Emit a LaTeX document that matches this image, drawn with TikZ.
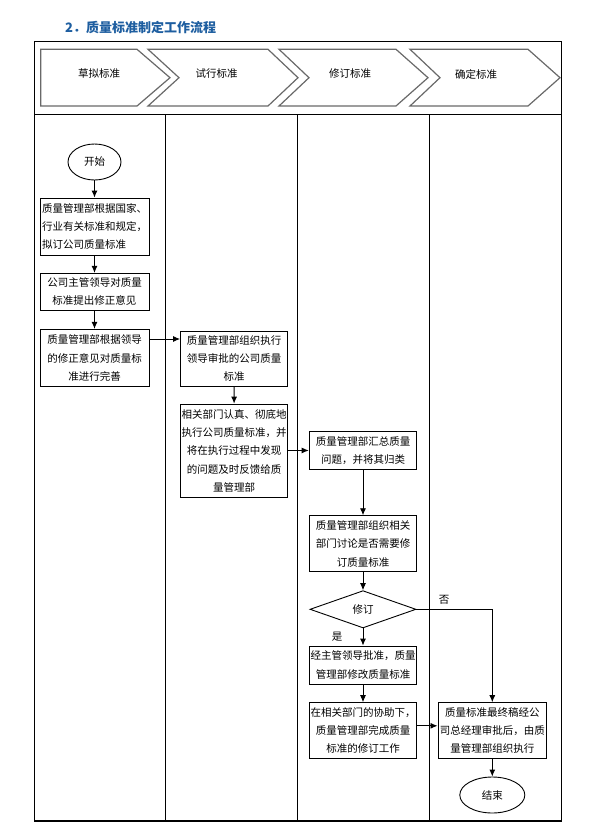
\documentclass[tikz,border=0pt]{standalone}
\usepackage{fontspec}
\setmainfont{Noto Sans CJK SC}
\usetikzlibrary{shapes.geometric, arrows.meta, positioning}
\definecolor{titleblue}{RGB}{30,94,160}
\definecolor{phasegray}{RGB}{105,105,105}
\tikzset{
	proc/.style={draw, rectangle, inner sep=0pt, line width=0.9pt, minimum width=108pt, align=center, font=\fontsize{10.5}{18.3}\selectfont},
	term/.style={draw, ellipse, inner sep=0pt, line width=0.9pt, font=\fontsize{10.5}{12}\selectfont},
	decide/.style={draw, diamond, inner sep=0pt, line width=0.9pt, minimum width=106pt, minimum height=37.3pt, font=\fontsize{10.5}{12}\selectfont},
	% chevrons of the header row
	phase/.style={draw=phasegray, line width=1.2pt, line join=miter},
	note/.style={inner sep=0pt, font=\fontsize{10.5}{12}\selectfont},
	lane/.style={line width=1pt},
}

\begin{document}
\begin{tikzpicture}[x=1pt, y=-1pt]
	\useasboundingbox (0,0) rectangle (601,828);
	
	\node (title) [anchor=west, inner sep=0pt, text=titleblue, font=\fontsize{13}{15}\selectfont\bfseries] at (65,27) {2．质量标准制定工作流程};
	
	% frame and lanes
	\draw [line width=1.4pt] (34.3,41.7) rectangle (561.5,821);
	\draw [lane] (34.3,114.5) -- (561.5,114.5);
	\foreach \x in {165.2,297.3,429.3}
		\draw [lane] (\x,114.5) -- (\x,821);
	
	\draw [phase] (40.7,49.3) -- (137,49.3) -- (170,77.7) -- (137,106) -- (40.7,106) -- cycle;
	\draw [phase] (148,49.3) -- (268,49.3) -- (298,77.7) -- (268,106) -- (148,106) -- (179,77.7) -- cycle;
	\draw [phase] (279,49.3) -- (396,49.3) -- (428,77.7) -- (396,106) -- (279,106) -- (309,77.7) -- cycle;
	\draw [phase] (410,49.3) -- (528,49.3) -- (560,77.7) -- (528,106) -- (410,106) -- (440,77.7) -- cycle;
	\node (p1) [note] at (99,74) {草拟标准};
	\node (p2) [note] at (216.5,74) {试行标准};
	\node (p3) [note] at (350,74) {修订标准};
	\node (p4) [note] at (476,74) {确定标准};
	
	\node (start) [term, minimum width=53pt, minimum height=36pt] at (94.5,162) {开始};
	\node (b1) [proc, minimum width=109pt, minimum height=57pt, align=left] at (94.5,226.5) {质量管理部根据国家、\\行业有关标准和规定，\\拟订公司质量标准};
	\node (b2) [proc, minimum width=109pt, minimum height=36.7pt] at (94.5,291.7) {公司主管领导对质量\\标准提出修正意见};
	\node (b3) [proc, minimum width=109pt, minimum height=57.4pt] at (94.5,358) {质量管理部根据领导\\的修正意见对质量标\\准进行完善};
	
	\node (b4) [proc, minimum width=107pt, minimum height=55pt] at (234,358.5) {质量管理部组织执行\\领导审批的公司质量\\标准};
	\node (b5) [proc, minimum width=107pt, minimum height=93.3pt] at (234.2,450.7) {相关部门认真、彻底地\\执行公司质量标准，并\\将在执行过程中发现\\的问题及时反馈给质\\量管理部};
	
	\node (b6) [proc, minimum width=107.7pt, minimum height=37.3pt] at (363,450.3) {质量管理部汇总质量\\问题，并将其归类};
	\node (b7) [proc, minimum width=107.7pt, minimum height=56pt] at (363,543.7) {质量管理部组织相关\\部门讨论是否需要修\\订质量标准};
	\node (d) [decide] at (363,609.3) {修订};
	\node (b8) [proc, minimum width=107.7pt, minimum height=38pt] at (363,665) {经主管领导批准，质量\\管理部修改质量标准};
	\node (b9) [proc, minimum width=107.7pt, minimum height=55.3pt] at (363,730.3) {在相关部门的协助下，\\质量管理部完成质量\\标准的修订工作};
	
	\node (b10) [proc, minimum width=108.7pt, minimum height=55.3pt] at (492.3,730.3) {质量标准最终稿经公\\司总经理审批后，由质\\量管理部组织执行};
	\node (end) [term, minimum width=65pt, minimum height=36pt] at (492.3,795) {结束};
	
	\node (no) [note] at (444,600) {否};
	\node (yes) [note] at (337,637) {是};
	
	\begin{scope}[line width=0.9pt, black, -{Latex[length=7pt,width=6pt]}]
		\draw (start) -- (b1);
		\draw (b1) -- (b2);
		\draw (b2) -- (b3);
		\draw ([yshift=19pt]b3.east) -- ([yshift=19pt]b3.east -| b4.west);
		\draw (b4) -- (b5);
		\draw (b5) -- (b6);
		\draw (b6) -- (b7);
		\draw (b7) -- (d);
		\draw (d) -- (b8);
		\draw (b8) -- (b9);
		\draw (d.east) -| (b10.north);
		\draw ([yshift=4.5pt]b9.east) -- ([yshift=4.5pt]b9.east -| b10.west);
		\draw (b10) -- (end);
	\end{scope}
	
\end{tikzpicture}
\end{document}
